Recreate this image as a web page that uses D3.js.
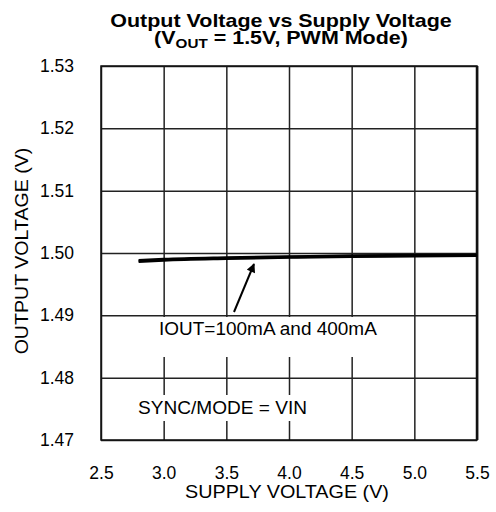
<!DOCTYPE html>
<html>
<head>
<meta charset="utf-8">
<script src="https://cdn.jsdelivr.net/npm/d3@7"></script>
<style>
body { margin: 0; background: #fff; }
text { font-family: "Liberation Sans", Arial, sans-serif; fill: #000; }
</style>
</head>
<body>
<div id="content"></div>
<script>
// data
var supplyV   = [2.8, 3.0, 3.5, 4.0, 4.5, 5.0, 5.5];
var vout100mA = [1.49880, 1.49900, 1.49925, 1.49940, 1.49955, 1.49962, 1.49966];
var vout400mA = [1.49865, 1.49885, 1.49912, 1.49930, 1.49945, 1.49952, 1.49958];
var xTicks = [2.5, 3.0, 3.5, 4.0, 4.5, 5.0, 5.5];
var yTicks = [1.47, 1.48, 1.49, 1.50, 1.51, 1.52, 1.53];

var W = 496, H = 512;
var margin = {top: 66, right: 19, bottom: 72, left: 101};
var width  = W - margin.left - margin.right;
var height = H - margin.top - margin.bottom;

var svg = d3.select("#content").append("svg")
    .attr("width", W)
    .attr("height", H);

var g = svg.append("g")
    .attr("transform", "translate(" + margin.left + "," + margin.top + ")");

var x = d3.scaleLinear().domain([2.5, 5.5]).range([0, width]);
var y = d3.scaleLinear().domain([1.47, 1.53]).range([height, 0]);

//text stretched a little sideways, like the original
function wideText(parent, px, py, str, size, sx, anchor, rot){
    return parent.append("text")
        .attr("transform", "translate(" + px + "," + py + ")" + (rot ? " rotate(" + rot + ")" : "") + " scale(" + sx + ",1)")
        .attr("text-anchor", anchor || "start")
        .attr("font-size", size)
        .text(str);
}

//grid
g.append("g").attr("class", "grid")
    .attr("transform", "translate(0," + height + ")")
    .call(d3.axisBottom(x).tickValues(xTicks).tickSize(-height).tickFormat(""))
    .call(function(s){ s.select(".domain").remove(); });
g.append("g").attr("class", "grid")
    .call(d3.axisLeft(y).tickValues(yTicks).tickSize(-width).tickFormat(""))
    .call(function(s){ s.select(".domain").remove(); });
g.selectAll(".grid line").attr("stroke", "#222").attr("stroke-width", 1.5);

//white boxes behind the notes so the grid breaks there
g.append("rect").attr("x", 40).attr("y", 251).attr("width", 258).attr("height", 40).attr("fill", "#fff");
g.append("rect").attr("x", 20).attr("y", 329).attr("width", 200).attr("height", 26).attr("fill", "#fff");

//frame
g.append("rect").attr("width", width).attr("height", height)
    .attr("fill", "none").attr("stroke", "#111").attr("stroke-width", 1.5);
g.append("line").attr("x1", width).attr("x2", width).attr("y1", 0).attr("y2", height)
    .attr("stroke", "#111").attr("stroke-width", 2.5);

//tick labels
var xAxis = g.append("g")
    .attr("transform", "translate(0," + height + ")")
    .call(d3.axisBottom(x).tickValues(xTicks).tickSize(0).tickPadding(27).tickFormat(d3.format(".1f")));
xAxis.select(".domain").remove();
var yAxis = g.append("g")
    .call(d3.axisLeft(y).tickValues(yTicks).tickSize(0).tickPadding(27).tickFormat(d3.format(".2f")));
yAxis.select(".domain").remove();
svg.selectAll(".tick text")
    .attr("font-size", 17.5)
    .attr("font-family", "Liberation Sans, Arial, sans-serif")
    .attr("fill", "#000");

//curves
var line = d3.line()
    .x(function(d){ return x(d[0]); })
    .y(function(d){ return y(d[1]); })
    .curve(d3.curveMonotoneX);
[vout100mA, vout400mA].forEach(function(vals){
    g.append("path")
        .datum(d3.zip(supplyV, vals))
        .attr("d", line)
        .attr("fill", "none")
        .attr("stroke", "#000")
        .attr("stroke-width", 3);
});

//arrow
svg.append("defs").append("marker")
    .attr("id", "head")
    .attr("viewBox", "0 0 10 10")
    .attr("refX", 9).attr("refY", 5)
    .attr("markerWidth", 5).attr("markerHeight", 4.5)
    .attr("orient", "auto")
    .append("path").attr("d", "M0,0 L10,5 L0,10 z").attr("fill", "#000");
g.append("line")
    .attr("x1", 133).attr("y1", 246)
    .attr("x2", 153).attr("y2", 198)
    .attr("stroke", "#000").attr("stroke-width", 2)
    .attr("marker-end", "url(#head)");

//notes
wideText(g, 58, 269, "IOUT=100mA and 400mA", 17.5, 1.085);
wideText(g, 37, 348, "SYNC/MODE = VIN", 17.5, 1.09);

//axis titles
wideText(svg, margin.left + width / 2 - 2, 498, "SUPPLY VOLTAGE (V)", 17.5, 1.13, "middle");
wideText(svg, 28, 251, "OUTPUT VOLTAGE (V)", 17.5, 1.12, "middle", -90);

//title
wideText(svg, 281, 27, "Output Voltage vs Supply Voltage", 19, 1.13, "middle").attr("font-weight", "bold");
var t2 = wideText(svg, 281, 44, "", 19, 1.13, "middle").attr("font-weight", "bold");
t2.append("tspan").text("(V");
t2.append("tspan").attr("font-size", 13.5).attr("dy", 4).text("OUT");
t2.append("tspan").attr("dy", -4).text(" = 1.5V, PWM Mode)");
</script>
</body>
</html>
